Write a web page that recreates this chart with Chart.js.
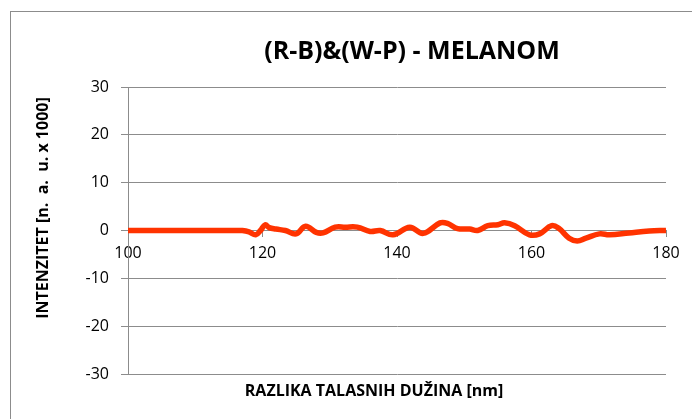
<!DOCTYPE html>
<html>
<head>
<meta charset="utf-8">
<script src="https://cdn.jsdelivr.net/npm/chart.js@4/dist/chart.umd.min.js"></script>
<style>
  html, body { margin: 0; padding: 0; background: #fff; }
  #wrap { width: 692px; height: 419px; }
</style>
</head>
<body>
<div id="wrap"><canvas id="myChart" width="692" height="419"></canvas></div>
<script>
// wavelength difference [nm]
const waveX = [100, 102, 104, 106, 108, 110, 112, 114, 116, 117, 118, 119, 119.7, 120.4, 121, 122, 123.4, 125, 126.4, 128, 129,
  130.8, 132.3, 134.1, 136, 137.5, 139.4, 141.9, 143.9, 146.4, 147.5, 149, 150.8, 152, 153.5, 155, 156, 157.5,
  159.7, 161.2, 163, 164.1, 165.6, 166.8, 168.1, 170.1, 171.6, 174.5, 177.5, 180];
// intensity [n. a. u. x 1000]
const intensity = [0, 0, 0, 0, 0, 0, 0, 0, 0, 0, -0.3, -0.9, 0, 1.2, 0.6, 0.3, 0, -0.7, 0.9, -0.4, -0.5,
  0.7, 0.7, 0.7, -0.2, 0, -0.9, 0.7, -0.6, 1.6, 1.5, 0.4, 0.3, 0, 1.0, 1.2, 1.6, 1.0,
  -0.9, -0.7, 1.0, 0.4, -1.6, -2.2, -1.6, -0.7, -0.9, -0.5, -0.1, 0];
const xTicks = [100, 120, 140, 160, 180];
const yTicks = [-30, -20, -10, 0, 10, 20, 30];

const chartTitle = '(R-B)&(W-P) - MELANOM';
const xTitle = 'RAZLIKA TALASNIH DUŽINA [nm]';
const yTitle = 'INTENZITET [n.  a.  u. x 1000]';

const fontFam = "'Open Sans', sans-serif";
const gridCol = '#8c8c8c';

// frame + titles, Excel style
const decor = {
  id: 'decor',
  beforeDraw(chart) {
    const c = chart.ctx;
    c.save();
    c.fillStyle = '#fff';
    c.fillRect(0, 0, chart.width, chart.height);
    c.strokeStyle = '#8c8c8c';
    c.lineWidth = 1;
    c.strokeRect(10.5, 11.5, 720, 440);
    c.restore();
  },
  afterDraw(chart) {
    const c = chart.ctx;
    const a = chart.chartArea;
    c.save();
    c.fillStyle = '#000';
    c.textAlign = 'center';
    c.textBaseline = 'middle';
    c.font = "bold 25px " + fontFam;
    c.fillText(chartTitle, 412, 52);
    c.font = "bold 16px " + fontFam;
    c.fillText(xTitle, 374, a.bottom + 17);
    c.translate(43, 208);
    c.rotate(-Math.PI / 2);
    c.fillText(yTitle, 0, 0);
    c.restore();
  }
};

const ctx = document.getElementById('myChart').getContext('2d');
const myChart = new Chart(ctx, {
  type: 'line',
  data: {
    datasets: [{
      data: waveX.map((x, i) => ({ x: x, y: intensity[i] })),
      borderColor: '#ff3300',
      borderWidth: 5.5,
      pointRadius: 0,
      tension: 0.4,
      fill: false
    }]
  },
  options: {
    responsive: false,
    animation: false,
    layout: { padding: { left: 0, right: 26, top: 87, bottom: 45 } },
    plugins: {
      legend: { display: false },
      tooltip: { enabled: false }
    },
    scales: {
      x: {
        type: 'linear',
        position: { y: 0 },
        min: 100,
        max: 180,
        afterBuildTicks: (s) => { s.ticks = xTicks.map(v => ({ value: v })); },
        grid: { display: true, drawOnChartArea: false, drawTicks: true, tickLength: 6, color: gridCol },
        border: { display: true, color: gridCol, width: 1 },
        ticks: { color: '#000', font: { family: fontFam, size: 16 }, padding: 7, maxRotation: 0, autoSkip: false }
      },
      y: {
        min: -30,
        max: 30,
        afterBuildTicks: (s) => { s.ticks = yTicks.map(v => ({ value: v })); },
        afterFit: (s) => { s.width = 128; },
        grid: { color: gridCol, tickLength: 7, drawTicks: true },
        border: { display: true, color: gridCol },
        ticks: { color: '#000', font: { family: fontFam, size: 16 }, padding: 12 }
      }
    }
  },
  plugins: [decor]
});
</script>
</body>
</html>
